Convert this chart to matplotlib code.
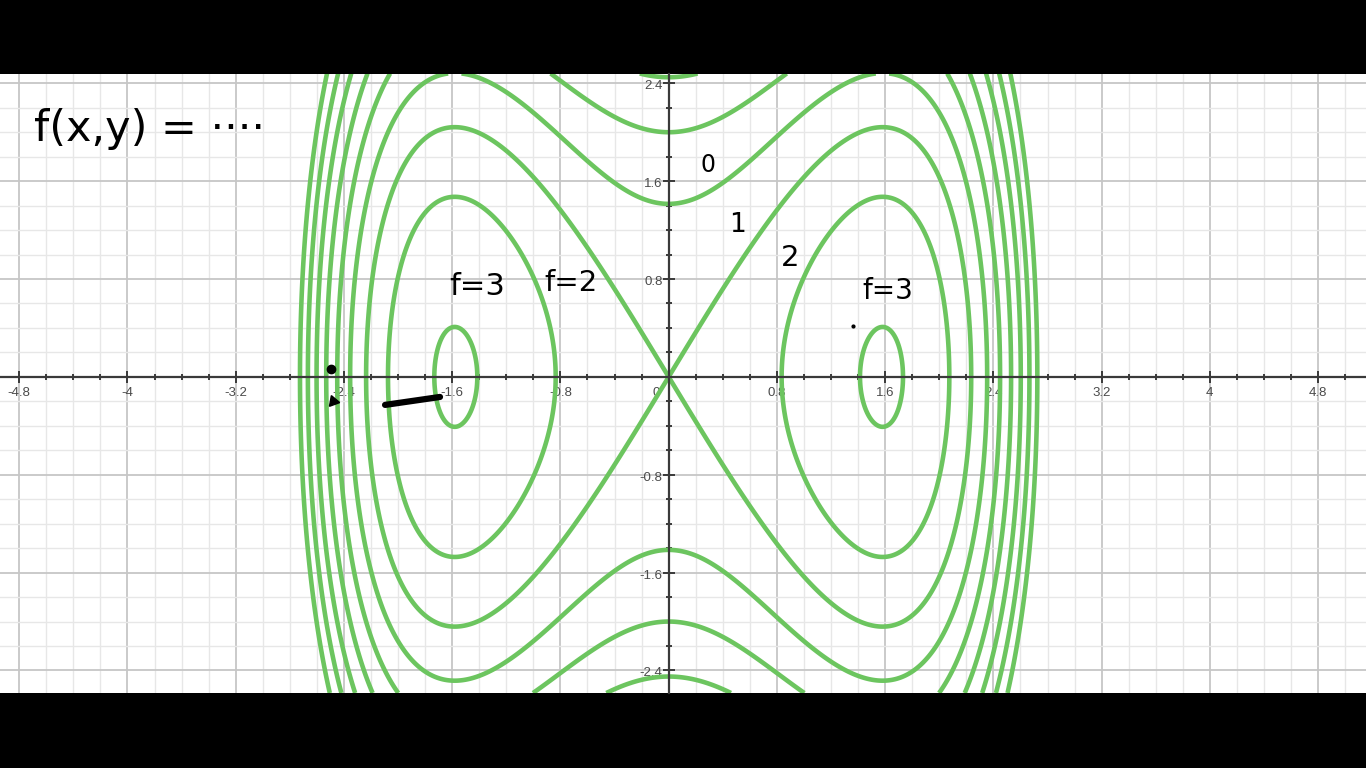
import numpy as np
import matplotlib
matplotlib.use("Agg")
import matplotlib.pyplot as plt
from matplotlib.transforms import offset_copy

# ---- data ----
# level curves of f(x, y) = k0 + kx2*x^2 - kx4*x^4 - ky2*y^2
k0 = 1.0
kx2 = 5.0 / 3.0
kx4 = 1.0 / 3.0
ky2 = 0.5
levels = [-5, -4, -3, -2, -1, 0, 1, 2, 3]

x_ticks = [-4.8, -4.0, -3.2, -2.4, -1.6, -0.8, 0.8, 1.6, 2.4, 3.2, 4.0, 4.8]
x_tick_labels = ["-4.8", "-4", "-3.2", "-2.4", "-1.6", "-0.8", "0.8", "1.6", "2.4", "3.2", "4", "4.8"]
y_ticks = [-2.4, -1.6, -0.8, 0.8, 1.6, 2.4]
y_tick_labels = ["-2.4", "-1.6", "-0.8", "0.8", "1.6", "2.4"]

# handwritten notes: (text, x, y, fontsize)
notes = [
    ("f(x,y) = \u00b7\u00b7\u00b7\u00b7", -3.84, 2.03, 31),
    ("f=3", -1.415, 0.74, 22),
    ("f=2", -0.72, 0.77, 21),
    ("0", 0.29, 1.73, 17),
    ("1", 0.51, 1.24, 19),
    ("2", 0.90, 0.97, 21),
    ("f=3", 1.62, 0.70, 20),
]

XLIM = (-4.942, 5.154)
YLIM = (-2.584, 2.48)
GREEN = "#6cc55f"

fig = plt.figure(figsize=(13.66, 7.68), dpi=100, facecolor="black")
ax = fig.add_axes([0, 75 / 768, 1, 619.5 / 768])
ax.set_facecolor("white")
ax.set_xlim(*XLIM)
ax.set_ylim(*YLIM)

# grid
ax.set_xticks(x_ticks + [0.0])
ax.set_yticks(y_ticks + [0.0])
ax.set_xticks(np.arange(-4.8, 5.01, 0.2), minor=True)
ax.set_yticks(np.arange(-2.4, 2.41, 0.2), minor=True)
ax.grid(True, which="major", color="#c6c6c6", lw=1.3, zorder=0)
ax.grid(True, which="minor", color="#e7e7e7", lw=1.0, zorder=0)
ax.set_axisbelow(True)

# axes through origin
for s in ["top", "right"]:
    ax.spines[s].set_visible(False)
ax.spines["left"].set_position(("data", 0))
ax.spines["bottom"].set_position(("data", 0))
for s in ["left", "bottom"]:
    ax.spines[s].set_color("#3a3a3a")
    ax.spines[s].set_linewidth(1.6)
    ax.spines[s].set_zorder(4)
ax.tick_params(which="major", direction="inout", length=8, width=1.4, color="#3a3a3a",
               labelbottom=False, labelleft=False)
ax.tick_params(which="minor", direction="inout", length=4, width=1.4, color="#3a3a3a")

# tick labels
lab_kw = dict(fontsize=9.5, color="#4a4a4a", family="Liberation Sans", zorder=1.5)
tx = offset_copy(ax.transData, fig=fig, x=0, y=-16, units="dots")
for v, t in zip(x_ticks, x_tick_labels):
    ax.text(v, 0, t, transform=tx, ha="center", va="center", **lab_kw)
t0 = offset_copy(ax.transData, fig=fig, x=-12, y=-16, units="dots")
ax.text(0, 0, "0", transform=t0, ha="center", va="center", **lab_kw)
ty = offset_copy(ax.transData, fig=fig, x=-6, y=-3, units="dots")
for v, t in zip(y_ticks, y_tick_labels):
    ax.text(0, v, t, transform=ty, ha="right", va="center", **lab_kw)

# contours
xs = np.linspace(XLIM[0], XLIM[1], 1400)
ys = np.linspace(YLIM[0], YLIM[1], 900)
X, Y = np.meshgrid(xs, ys)
Z = k0 + kx2 * X**2 - kx4 * X**4 - ky2 * Y**2
ax.contour(X, Y, Z, levels=levels, colors=GREEN, linewidths=3.3,
           linestyles="solid", zorder=2)

# handwritten annotations
for t, x, y, fs in notes:
    ax.text(x, y, t, fontsize=fs, color="black", ha="center", va="center",
            family="DejaVu Sans", zorder=5)
ax.plot([1.362], [0.417], marker="o", ms=2, color="black", zorder=5)
ax.plot([-2.096, -1.69], [-0.229, -0.164], color="black", lw=4.5,
        solid_capstyle="round", zorder=5)
ax.plot([-2.494], [0.065], marker="o", ms=6, color="black", zorder=5)
ax.plot([-2.48], [-0.20], marker=(3, 0, 20), ms=9, color="black", zorder=5)

fig.savefig("out.png", dpi=100, facecolor="black")
